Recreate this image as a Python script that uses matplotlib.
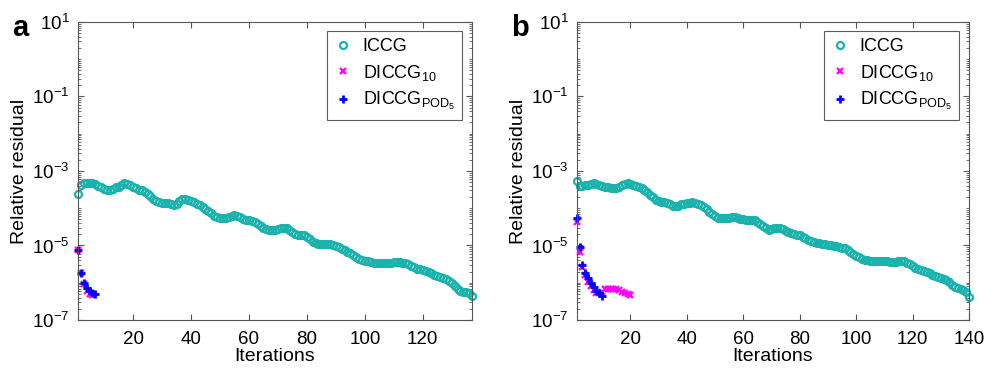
import matplotlib
matplotlib.use("Agg")
import matplotlib.pyplot as plt
import matplotlib.ticker as mticker
import numpy as np

# Relative residual (log10) per iteration

# panel a
iccg_a = [-3.62, -3.38, -3.33, -3.32, -3.32, -3.33, -3.36, -3.40, -3.44, -3.48,
          -3.52, -3.52, -3.48, -3.44, -3.42, -3.37, -3.33, -3.34, -3.37, -3.42,
          -3.46, -3.50, -3.52, -3.56, -3.62, -3.68, -3.74, -3.80, -3.84, -3.86,
          -3.86, -3.86, -3.88, -3.92, -3.90, -3.80, -3.74, -3.74, -3.77, -3.80,
          -3.84, -3.88, -3.92, -3.96, -4.02, -4.08, -4.14, -4.20, -4.24, -4.26,
          -4.26, -4.25, -4.23, -4.20, -4.18, -4.20, -4.24, -4.28, -4.31, -4.32,
          -4.34, -4.38, -4.43, -4.48, -4.52, -4.55, -4.58, -4.59, -4.58, -4.56,
          -4.54, -4.53, -4.54, -4.58, -4.64, -4.69, -4.72, -4.72, -4.72, -4.76,
          -4.83, -4.90, -4.94, -4.95, -4.95, -4.95, -4.95, -4.96, -4.98, -5.01,
          -5.05, -5.09, -5.13, -5.17, -5.21, -5.25, -5.30, -5.35, -5.40, -5.43,
          -5.43, -5.44, -5.46, -5.47, -5.48, -5.48, -5.48, -5.47, -5.46, -5.45,
          -5.45, -5.45, -5.46, -5.48, -5.51, -5.55, -5.59, -5.62, -5.64, -5.66,
          -5.69, -5.72, -5.75, -5.78, -5.81, -5.84, -5.87, -5.91, -5.96, -6.02,
          -6.08, -6.16, -6.22, -6.24, -6.25, -6.28, -6.35]
diccg10_a = [-5.12, -5.75, -6.04, -6.22, -6.30, -6.33]
pod5_a = [-5.12, -5.75, -6.00, -6.15, -6.22, -6.27, -6.30]

# panel b
iccg_b = [-3.27, -3.41, -3.40, -3.39, -3.37, -3.34, -3.33, -3.35, -3.38, -3.41,
          -3.43, -3.44, -3.45, -3.47, -3.46, -3.43, -3.39, -3.35, -3.33, -3.34,
          -3.37, -3.40, -3.42, -3.45, -3.50, -3.56, -3.64, -3.71, -3.77, -3.81,
          -3.83, -3.84, -3.86, -3.90, -3.94, -3.95, -3.93, -3.90, -3.88, -3.87,
          -3.85, -3.83, -3.85, -3.88, -3.92, -3.97, -4.03, -4.09, -4.15, -4.21,
          -4.25, -4.27, -4.27, -4.26, -4.25, -4.24, -4.23, -4.25, -4.28, -4.30,
          -4.31, -4.31, -4.31, -4.32, -4.36, -4.42, -4.48, -4.54, -4.58, -4.57,
          -4.53, -4.52, -4.54, -4.57, -4.61, -4.64, -4.67, -4.70, -4.72, -4.73,
          -4.76, -4.80, -4.84, -4.88, -4.92, -4.94, -4.94, -4.95, -4.97, -4.98,
          -5.00, -5.01, -5.02, -5.04, -5.06, -5.08, -5.12, -5.17, -5.22, -5.27,
          -5.32, -5.36, -5.38, -5.40, -5.42, -5.43, -5.43, -5.43, -5.43, -5.43,
          -5.43, -5.44, -5.45, -5.45, -5.43, -5.41, -5.42, -5.46, -5.51, -5.56,
          -5.60, -5.63, -5.66, -5.69, -5.72, -5.75, -5.78, -5.81, -5.84, -5.87,
          -5.90, -5.94, -5.99, -6.05, -6.11, -6.15, -6.17, -6.20, -6.25, -6.37]
diccg10_b = [-4.36, -5.17, -5.57, -5.79, -5.97, -6.10, -6.19, -6.27, -6.28, -6.24,
             -6.18, -6.17, -6.17, -6.18, -6.18, -6.19, -6.24, -6.28, -6.31, -6.33]
pod5_b = [-4.25, -5.05, -5.52, -5.75, -5.88, -6.02, -6.12, -6.21, -6.28, -6.35]

panels = [("a", iccg_a, diccg10_a, pod5_a, 137, 0.0792, 0.40),
          ("b", iccg_b, diccg10_b, pod5_b, 140, 0.5855, 0.3983)]

plt.rcParams["font.family"] = ["Liberation Sans", "DejaVu Sans"]
plt.rcParams["mathtext.fontset"] = "custom"
plt.rcParams["mathtext.rm"] = "Liberation Sans"
plt.rcParams["mathtext.it"] = "Liberation Sans"
plt.rcParams["mathtext.default"] = "regular"

teal = "#1AB2AC"

fig = plt.figure(figsize=(9.85, 3.74), dpi=100)

for tag, iccg, d10, pod, xmax, left, width in panels:
    ax = fig.add_axes([left, 0.1444, width, 0.797])
    x1 = np.arange(1, len(iccg) + 1)
    x2 = np.arange(1, len(d10) + 1)
    x3 = np.arange(1, len(pod) + 1)
    ax.semilogy(x1, 10.0 ** np.array(iccg), "o", color=teal, mfc="none",
                ms=5, mew=1.6, label="ICCG", clip_on=False)
    ax.semilogy(x2, 10.0 ** np.array(d10), "x", color="#FF00FF",
                ms=4, mew=1.6, label="DICCG$_{10}$", clip_on=False)
    ax.semilogy(x3, 10.0 ** np.array(pod), "+", color="#0000FF",
                ms=6, mew=2.0, label="DICCG$_{POD_5}$", clip_on=False)

    ax.set_xlim(1, xmax)
    ax.set_ylim(1e-7, 1e1)
    ax.set_xticks(np.arange(20, xmax + 1, 20))
    ax.yaxis.set_major_locator(mticker.FixedLocator([1e-7, 1e-5, 1e-3, 1e-1, 1e1]))
    ax.yaxis.set_minor_locator(mticker.LogLocator(base=10, subs=np.arange(1, 10), numticks=50))
    ax.yaxis.set_minor_formatter(mticker.NullFormatter())
    ax.tick_params(which="both", direction="in", top=True, right=True,
                   labelsize=13.5, color="#555555")
    ax.tick_params(which="major", length=4)
    ax.tick_params(axis="x", which="major", pad=8)
    ax.tick_params(axis="y", which="major", pad=6)
    ax.tick_params(which="minor", length=2)
    for s in ax.spines.values():
        s.set_color("#555555")
        s.set_linewidth(0.8)

    ax.set_xlabel("Iterations", fontsize=14, labelpad=0)
    ax.set_ylabel("Relative residual", fontsize=14, labelpad=3)
    leg = ax.legend(loc="upper right", fontsize=13, frameon=True, fancybox=False,
                    edgecolor="#333333", handletextpad=0.6, borderpad=0.4,
                    labelspacing=0.42, handlelength=1.0, borderaxespad=0,
                    bbox_to_anchor=(0.975, 0.97))
    leg.get_frame().set_linewidth(0.8)
    fig.text(left - 0.067, 0.925, tag, fontsize=21, fontweight="bold",
             ha="left", va="center")

fig.savefig("out.png", dpi=100)
